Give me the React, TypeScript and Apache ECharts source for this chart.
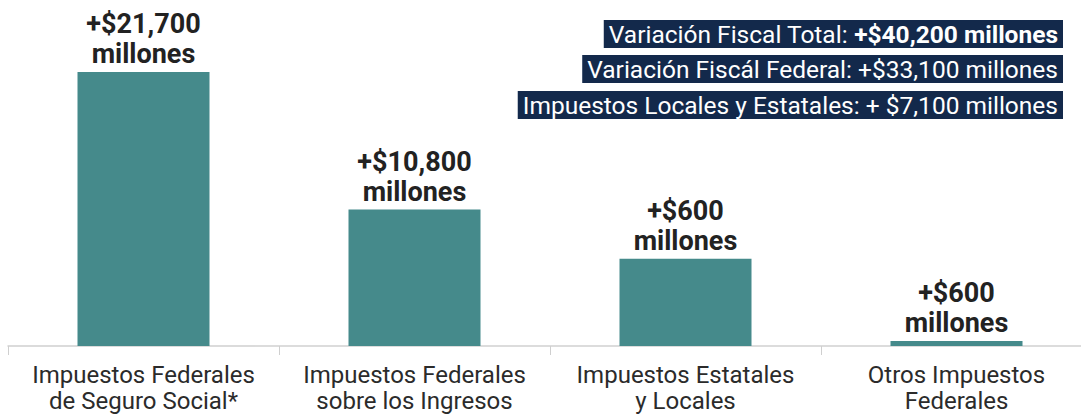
import React, { useEffect, useRef } from "react";
import * as echarts from "echarts";

const categories = [
  "Impuestos Federales\nde Seguro Social*",
  "Impuestos Federales\nsobre los Ingresos",
  "Impuestos Estatales\ny Locales",
  "Otros Impuestos\nFederales",
];
const values = [21700, 10800, 6900, 400];
const barLabels = [
  "+$21,700\nmillones",
  "+$10,800\nmillones",
  "+$600\nmillones",
  "+$600\nmillones",
];
const summaryLines = [
  { label: "Variación Fiscal Total: ", amount: "+$40,200 millones", bold: true },
  { label: "Variación Fiscál Federal: ", amount: "+$33,100 millones", bold: false },
  { label: "Impuestos Locales y Estatales: ", amount: "+ $7,100 millones", bold: false },
];

const FONT = "Roboto, 'Noto Sans', sans-serif";
const BAR = "#458a8b";
const NAVY = "#13294b";
const CHART_W = 1092;

export default function App() {
  const ref = useRef<HTMLDivElement>(null);
  useEffect(() => {
    if (!ref.current) return;
    const chart = echarts.init(ref.current, undefined, { renderer: "svg" });
    const boxTops = [20, 55, 91];
    chart.setOption({
      animation: false,
      textStyle: { fontFamily: FONT },
      grid: { left: 8, right: 0, top: 10, height: 336, containLabel: false },
      xAxis: {
        type: "category",
        data: categories,
        axisLine: { show: true, lineStyle: { color: "#d0d0d0", width: 1.5 } },
        axisTick: { show: true, length: 9, lineStyle: { color: "#cfcfcf", width: 1 } },
        axisLabel: {
          interval: 0,
          fontSize: 24,
          lineHeight: 26,
          color: "#2b2b2b",
          margin: 16,
          fontFamily: FONT,
        },
      },
      yAxis: {
        type: "value",
        min: 0,
        max: 26600,
        show: false,
        splitLine: { show: false },
      },
      series: [
        {
          type: "bar",
          data: values,
          barWidth: 132,
          itemStyle: { color: BAR },
          label: {
            show: true,
            position: "top",
            distance: 3,
            formatter: (p: any) => barLabels[p.dataIndex],
            fontSize: 27,
            lineHeight: 30,
            fontWeight: "bold",
            color: "#222222",
            fontFamily: FONT,
          },
        },
      ],
      graphic: summaryLines.map((s, i) => ({
        type: "text",
        right: CHART_W - 1063,
        top: boxTops[i],
        style: {
          text: `{a|${s.label}}{b|${s.amount}}`,
          fill: "#ffffff",
          backgroundColor: NAVY,
          padding: [1, 5, 1, 5],
          rich: {
            a: { fontSize: 24.5, fontFamily: FONT, fill: "#ffffff", color: "#ffffff", lineHeight: 26 },
            b: {
              fontSize: 24.5,
              fontFamily: FONT,
              fill: "#ffffff",
              color: "#ffffff",
              fontWeight: s.bold ? "bold" : "normal",
              lineHeight: 26,
            },
          },
        },
      })),
    });
    return () => chart.dispose();
  }, []);
  return (
    <div style={{ position: "fixed", left: 0, top: 0, width: 1081, height: 416, overflow: "hidden", background: "#fff" }}>
      <div ref={ref} style={{ width: CHART_W, height: 416 }} />
    </div>
  );
}
